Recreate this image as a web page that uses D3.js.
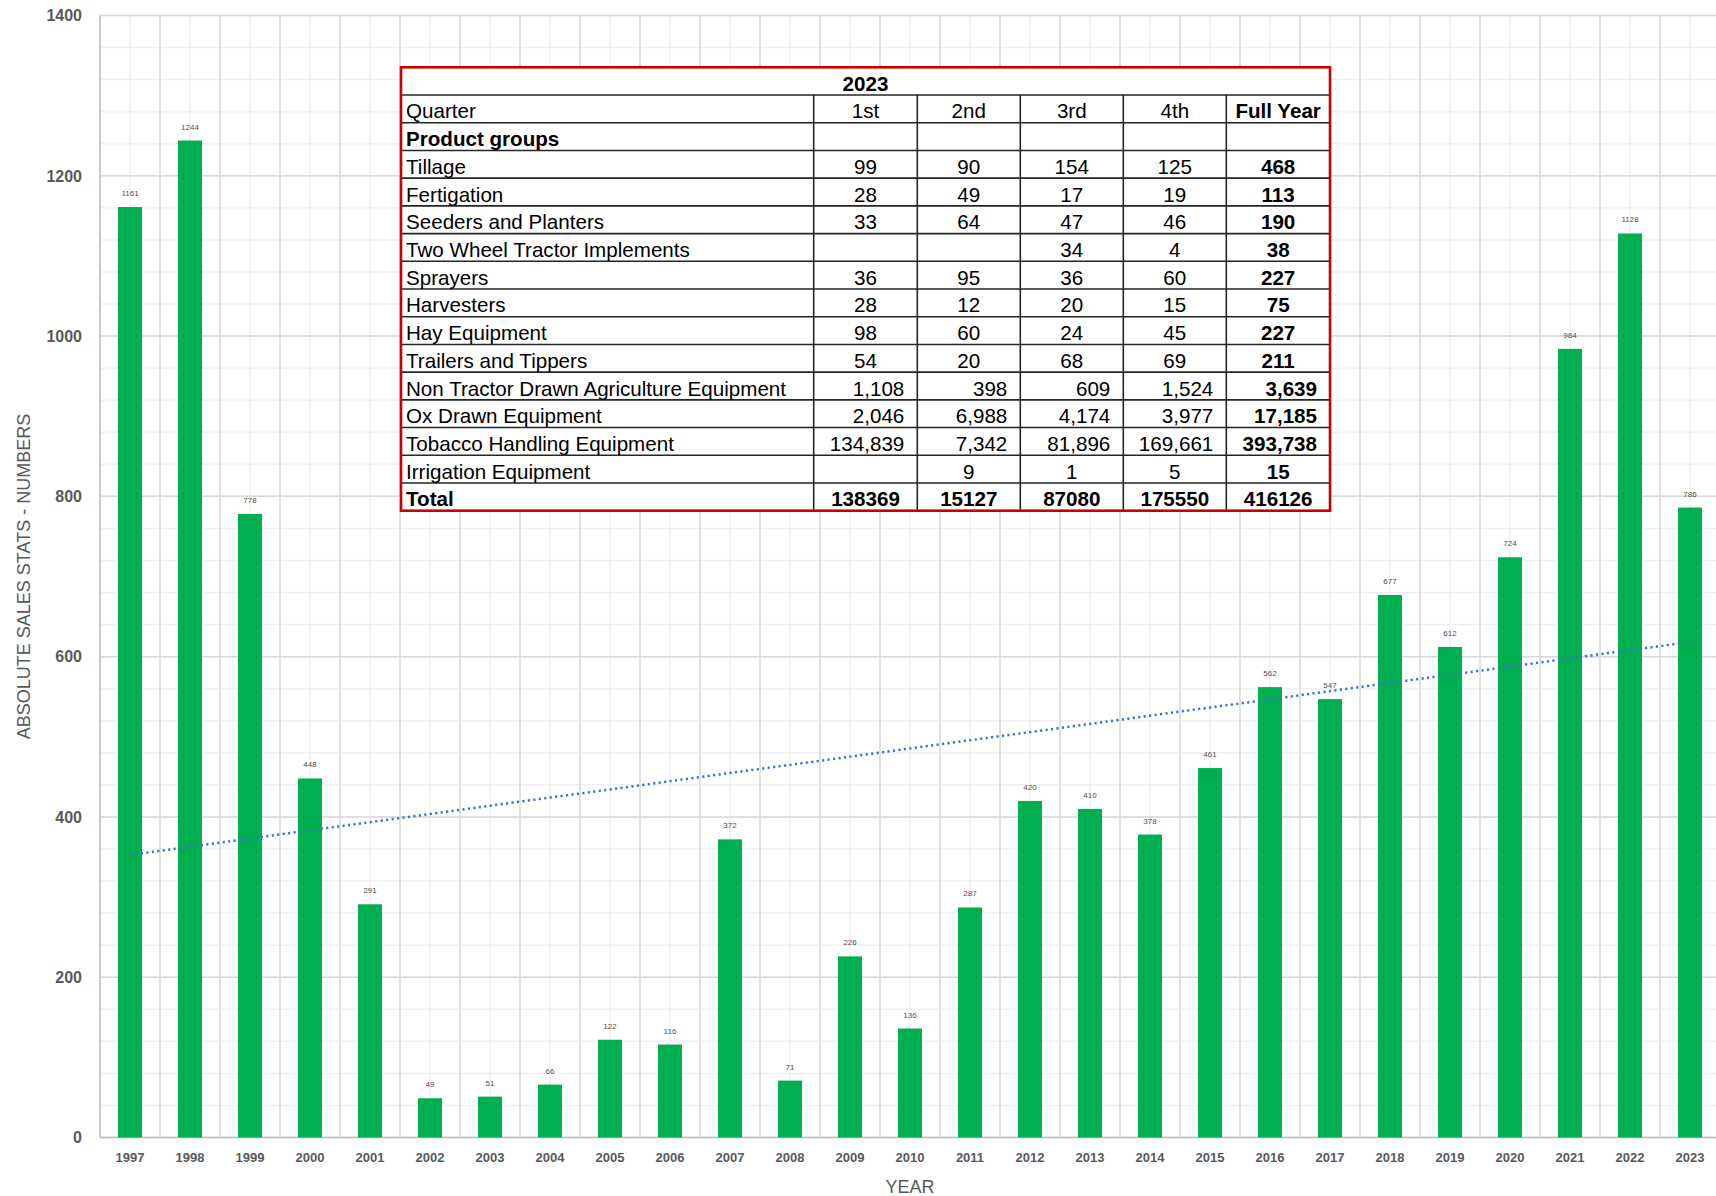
<!DOCTYPE html>
<html>
<head>
<meta charset="utf-8">
<script src="https://cdn.jsdelivr.net/npm/d3@7/dist/d3.min.js"></script>
<style>
  body { margin: 0; background: #fff; }
  svg { display: block; font-family: "Liberation Sans", Arial, sans-serif; }
</style>
</head>
<body>
<svg id="chart" width="1716" height="1196"></svg>
<script>
// yearly sales
var years = [1997, 1998, 1999, 2000, 2001, 2002, 2003, 2004, 2005, 2006, 2007, 2008, 2009,
  2010, 2011, 2012, 2013, 2014, 2015, 2016, 2017, 2018, 2019, 2020, 2021, 2022, 2023];
var sales = [1161, 1244, 778, 448, 291, 49, 51, 66, 122, 116, 372, 71, 226,
  136, 287, 420, 410, 378, 461, 562, 547, 677, 612, 724, 984, 1128, 786];
var yTicks = [0, 200, 400, 600, 800, 1000, 1200, 1400];

// 2023 table
var tableYear = '2023';
var quarters = ['1st', '2nd', '3rd', '4th', 'Full Year'];
var groups = ['Tillage', 'Fertigation', 'Seeders and Planters', 'Two Wheel Tractor Implements',
  'Sprayers', 'Harvesters', 'Hay Equipment', 'Trailers and Tippers',
  'Non Tractor Drawn Agriculture Equipment', 'Ox Drawn Equipment',
  'Tobacco Handling Equipment', 'Irrigation Equipment'];
var q1 = [99, 28, 33, null, 36, 28, 98, 54, 1108, 2046, 134839, null];
var q2 = [90, 49, 64, null, 95, 12, 60, 20, 398, 6988, 7342, 9];
var q3 = [154, 17, 47, 34, 36, 20, 24, 68, 609, 4174, 81896, 1];
var q4 = [125, 19, 46, 4, 60, 15, 45, 69, 1524, 3977, 169661, 5];
var fullYear = [468, 113, 190, 38, 227, 75, 227, 211, 3639, 17185, 393738, 15];
var totals = [138369, 15127, 87080, 175550, 416126];
// rows shown with thousands separators, right aligned
var commaRows = ['Non Tractor Drawn Agriculture Equipment', 'Ox Drawn Equipment', 'Tobacco Handling Equipment'];

var svg = d3.select('#chart');
var plotLeft = 100, plotRight = 1720, plotTop = 15.5, plotBottom = 1137.5;

var x = d3.scaleBand().domain(years).range([plotLeft, plotRight]).paddingInner(0.6).paddingOuter(0.3);
var y = d3.scaleLinear().domain([0, 1400]).range([plotBottom, plotTop]);
var step = x.step();
var cx = function(d) { return x(d) + x.bandwidth() / 2; };

// gridlines
var grid = svg.append('g');
grid.selectAll('.hminor').data(d3.range(0, 1401, 40))
  .enter().append('line')
  .attr('x1', plotLeft).attr('x2', plotRight)
  .attr('y1', function(d) { return y(d); }).attr('y2', function(d) { return y(d); })
  .attr('stroke', '#f0f0f0').attr('stroke-width', 1.5);
grid.selectAll('.vminor').data(years)
  .enter().append('line')
  .attr('x1', cx).attr('x2', cx)
  .attr('y1', plotTop).attr('y2', plotBottom)
  .attr('stroke', '#f0f0f0').attr('stroke-width', 1.5);
grid.selectAll('.hmajor').data(yTicks)
  .enter().append('line')
  .attr('x1', plotLeft).attr('x2', plotRight)
  .attr('y1', function(d) { return y(d); }).attr('y2', function(d) { return y(d); })
  .attr('stroke', '#d9d9d9').attr('stroke-width', 1.5);
grid.selectAll('.vmajor').data(years)
  .enter().append('line')
  .attr('x1', function(d) { return x(d) - step * 0.3; })
  .attr('x2', function(d) { return x(d) - step * 0.3; })
  .attr('y1', plotTop).attr('y2', plotBottom)
  .attr('stroke', '#d9d9d9').attr('stroke-width', 1.5);

// axes lines
svg.append('line').attr('x1', plotLeft).attr('x2', plotLeft).attr('y1', plotTop).attr('y2', plotBottom)
  .attr('stroke', '#bfbfbf').attr('stroke-width', 1.5);
svg.append('line').attr('x1', plotLeft).attr('x2', plotRight).attr('y1', plotBottom).attr('y2', plotBottom)
  .attr('stroke', '#bfbfbf').attr('stroke-width', 1.5);

// bars
svg.selectAll('.bar').data(years)
  .enter().append('rect')
  .attr('class', 'bar')
  .attr('x', function(d) { return x(d); })
  .attr('width', x.bandwidth())
  .attr('y', function(d, i) { return y(sales[i]); })
  .attr('height', function(d, i) { return plotBottom - y(sales[i]); })
  .attr('fill', '#00b050');

// value labels
svg.selectAll('.vlabel').data(years)
  .enter().append('text')
  .attr('x', cx)
  .attr('y', function(d, i) { return y(sales[i]) - 11; })
  .attr('text-anchor', 'middle')
  .attr('font-size', 8)
  .attr('fill', '#505050')
  .text(function(d, i) { return sales[i]; });

// linear trend line (least squares over year index)
var n = years.length;
var mx = d3.mean(d3.range(n)), my = d3.mean(sales);
var sxy = d3.sum(d3.range(n), function(i) { return (i - mx) * (sales[i] - my); });
var sxx = d3.sum(d3.range(n), function(i) { return (i - mx) * (i - mx); });
var slope = sxy / sxx, icpt = my - slope * mx;
svg.append('line')
  .attr('x1', cx(years[0])).attr('y1', y(icpt))
  .attr('x2', cx(years[n - 1])).attr('y2', y(icpt + slope * (n - 1)))
  .attr('stroke', '#4472c4').attr('stroke-width', 2.5)
  .attr('stroke-dasharray', '2.2 3.3');

// y tick labels
svg.selectAll('.ytick').data(yTicks)
  .enter().append('text')
  .attr('x', 82)
  .attr('y', function(d) { return y(d); })
  .attr('dy', '0.36em')
  .attr('text-anchor', 'end')
  .attr('font-size', 16).attr('font-weight', 'bold')
  .attr('fill', '#595959')
  .text(function(d) { return d; });

// x tick labels
svg.selectAll('.xtick').data(years)
  .enter().append('text')
  .attr('x', cx)
  .attr('y', 1162)
  .attr('text-anchor', 'middle')
  .attr('font-size', 13).attr('font-weight', 'bold')
  .attr('fill', '#595959')
  .text(function(d) { return d; });

// axis titles
svg.append('text')
  .attr('x', (plotLeft + plotRight) / 2).attr('y', 1193)
  .attr('text-anchor', 'middle')
  .attr('font-size', 18).attr('fill', '#595959')
  .text('YEAR');
svg.append('text')
  .attr('transform', 'translate(30,' + (plotTop + plotBottom) / 2 + ') rotate(-90)')
  .attr('text-anchor', 'middle')
  .attr('font-size', 18).attr('fill', '#595959')
  .text('ABSOLUTE SALES STATS - NUMBERS');

// table
var tx0 = 401, tx1 = 1330, ty0 = 67.3, ty1 = 510.7;
var nRows = groups.length + 4;
var rowH = (ty1 - ty0) / nRows;
var colX = [tx0, 813.7, 917.3, 1020.3, 1123.3, 1226.3, tx1];
var table = svg.append('g');
table.append('rect').attr('x', tx0).attr('y', ty0)
  .attr('width', tx1 - tx0).attr('height', ty1 - ty0).attr('fill', '#fff');

var rowY = function(r) { return ty0 + r * rowH; };
// horizontal rules
table.selectAll('.hr').data(d3.range(1, nRows))
  .enter().append('line')
  .attr('x1', tx0).attr('x2', tx1)
  .attr('y1', rowY).attr('y2', rowY)
  .attr('stroke', '#262626').attr('stroke-width', 1.6);
// vertical rules
table.selectAll('.vr').data(colX.slice(1, 6))
  .enter().append('line')
  .attr('x1', function(d) { return d; }).attr('x2', function(d) { return d; })
  .attr('y1', rowY(1)).attr('y2', ty1)
  .attr('stroke', '#262626').attr('stroke-width', 1.6);

var cell = function(text, r, c, opts) {
  opts = opts || {};
  var a = opts.anchor || 'middle';
  var xx;
  if (a === 'start') xx = colX[c] + 5;
  else if (a === 'end') xx = colX[c + 1] - 13;
  else xx = (colX[c] + colX[c + 1]) / 2;
  table.append('text')
    .attr('x', opts.cx != null ? opts.cx : xx)
    .attr('y', rowY(r) + rowH / 2 + 2)
    .attr('dy', '0.37em')
    .attr('text-anchor', a)
    .attr('font-size', 20.6)
    .attr('font-weight', opts.bold ? 'bold' : 'normal')
    .attr('fill', '#000')
    .text(text);
};

cell(tableYear, 0, 0, { cx: (tx0 + tx1) / 2, bold: true });
cell('Quarter', 1, 0, { anchor: 'start' });
quarters.forEach(function(q, i) { cell(q, 1, i + 1, { bold: i === 4 }); });
cell('Product groups', 2, 0, { anchor: 'start', bold: true });

var fmt = d3.format(',');
var cols = [q1, q2, q3, q4, fullYear];
groups.forEach(function(g, i) {
  var r = i + 3;
  var isComma = commaRows.indexOf(g) >= 0;
  cell(g, r, 0, { anchor: 'start' });
  cols.forEach(function(col, c) {
    if (col[i] == null) return;
    cell(isComma ? fmt(col[i]) : col[i], r, c + 1,
      { anchor: isComma ? 'end' : 'middle', bold: c === 4 });
  });
});
cell('Total', nRows - 1, 0, { anchor: 'start', bold: true });
totals.forEach(function(t, c) { cell(t, nRows - 1, c + 1, { bold: true }); });

table.append('rect').attr('x', tx0).attr('y', ty0)
  .attr('width', tx1 - tx0).attr('height', ty1 - ty0)
  .attr('fill', 'none').attr('stroke', '#cc0000').attr('stroke-width', 2.6);
</script>
</body>
</html>
